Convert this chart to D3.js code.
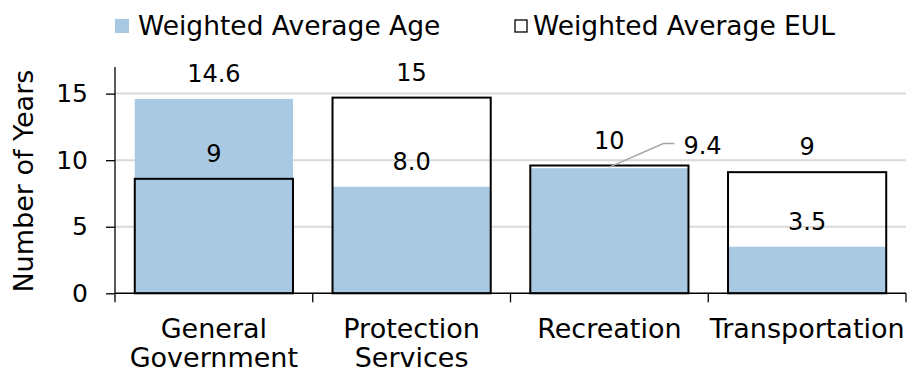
<!DOCTYPE html>
<html>
<head>
<meta charset="utf-8">
<script src="https://cdn.jsdelivr.net/npm/d3@7"></script>
<style>
  html, body { margin: 0; padding: 0; background: #fff; }
  svg { display: block; font-family: "DejaVu Sans", Verdana, sans-serif; }
</style>
</head>
<body>
<svg id="chart" width="907" height="376"></svg>
<script>
// Asset classes and their weighted averages (years)
const categories = ["General Government", "Protection Services", "Recreation", "Transportation"];
const avgAge = [14.6, 8.0, 9.4, 3.5];
const avgEUL = [8.6, 14.7, 9.6, 9.1];
const yTicks = [0, 5, 10, 15];
const seriesNames = ["Weighted Average Age", "Weighted Average EUL"];

const W = 907, H = 376;
const margin = { left: 115, right: 1, top: 67, bottom: 82.7 };
const ageColor = "#a9c8e2";

const svg = d3.select("#chart");

const x = d3.scaleBand()
  .domain(categories)
  .range([margin.left, W - margin.right])
  .paddingInner(0.2)
  .paddingOuter(0.1);

const y = d3.scaleLinear()
  .domain([0, 17])
  .range([H - margin.bottom, margin.top]);

const step = x.step();
const bandStart = d => x(d) - step * 0.1;

// horizontal gridlines
svg.append("g")
  .selectAll("line")
  .data(yTicks.filter(t => t > 0))
  .join("line")
  .attr("x1", margin.left).attr("x2", W - margin.right)
  .attr("y1", d => y(d)).attr("y2", d => y(d))
  .attr("stroke", "#d9d9d9").attr("stroke-width", 2);

// Age bars (filled)
svg.append("g")
  .selectAll("rect")
  .data(categories)
  .join("rect")
  .attr("x", d => x(d))
  .attr("width", x.bandwidth())
  .attr("y", (d, i) => y(avgAge[i]))
  .attr("height", (d, i) => y(0) - y(avgAge[i]))
  .attr("fill", ageColor);

// EUL bars (outline only)
svg.append("g")
  .selectAll("rect")
  .data(categories)
  .join("rect")
  .attr("x", d => x(d))
  .attr("width", x.bandwidth())
  .attr("y", (d, i) => y(avgEUL[i]))
  .attr("height", (d, i) => y(0) - y(avgEUL[i]))
  .attr("fill", "none")
  .attr("stroke", "#000")
  .attr("stroke-width", 2);

// y axis
const yAxis = d3.axisLeft(y).tickValues(yTicks).tickSize(9).tickPadding(18).tickFormat(d3.format("d"));
const gy = svg.append("g")
  .attr("transform", `translate(${margin.left},0)`)
  .call(yAxis);
gy.select(".domain").remove();
gy.append("line")
  .attr("x1", 0).attr("x2", 0)
  .attr("y1", y(17)).attr("y2", y(0))
  .attr("stroke", "#000").attr("stroke-width", 1.3);
gy.selectAll(".tick line").attr("stroke", "#000").attr("stroke-width", 1.3);
gy.selectAll(".tick text")
  .attr("fill", "#000")
  .style("font-size", "25px")
  .style("font-family", "DejaVu Sans, Verdana, sans-serif");

// x axis baseline and category separators
const gx = svg.append("g");
gx.append("line")
  .attr("x1", margin.left).attr("x2", W - margin.right)
  .attr("y1", y(0)).attr("y2", y(0))
  .attr("stroke", "#000").attr("stroke-width", 1.5);
const boundaries = categories.map(bandStart).concat([bandStart(categories[categories.length - 1]) + step]);
gx.selectAll("line.sep")
  .data(boundaries)
  .join("line")
  .attr("class", "sep")
  .attr("x1", d => d).attr("x2", d => d)
  .attr("y1", y(0)).attr("y2", y(0) + 9)
  .attr("stroke", "#000").attr("stroke-width", 1.3);

// category labels, wrapped onto two lines where they contain a space
gx.selectAll("text.cat")
  .data(categories)
  .join("text")
  .attr("class", "cat")
  .attr("text-anchor", "middle")
  .attr("font-size", 27)
  .attr("fill", "#000")
  .each(function (d) {
    const words = d.split(" ");
    const t = d3.select(this);
    words.forEach((w, k) => {
      t.append("tspan")
        .attr("x", x(d) + x.bandwidth() / 2)
        .attr("y", 338 + k * 29)
        .text(w);
    });
  });

// y axis title
svg.append("text")
  .attr("transform", `translate(33,${(y(0) + y(17)) / 2 + 1}) rotate(-90)`)
  .attr("text-anchor", "middle")
  .attr("font-size", 27)
  .attr("fill", "#000")
  .text("Number of Years");

// value labels
const fmtAge = d3.format(".1f");
const fmtEUL = d3.format(".0f");
const labelGap = 17;
const labels = svg.append("g").attr("font-size", 24).attr("fill", "#000").attr("text-anchor", "middle");

labels.selectAll("text.eul")
  .data(categories)
  .join("text")
  .attr("class", "eul")
  .attr("x", d => x(d) + x.bandwidth() / 2)
  .attr("y", (d, i) => y(avgEUL[i]) - labelGap)
  .text((d, i) => fmtEUL(avgEUL[i]));

// Age labels; Recreation's sits beside the bar with a leader line
const cx = d => x(d) + x.bandwidth() / 2;
categories.forEach((d, i) => {
  if (d === "Recreation") {
    const top = y(avgAge[i]) - 1;
    const lx = cx(d) + 54, ly = y(avgEUL[i]) - 22;
    svg.append("polyline")
      .attr("points", `${cx(d)},${top} ${lx},${ly} ${lx + 11},${ly}`)
      .attr("fill", "none")
      .attr("stroke", "#a6a6a6")
      .attr("stroke-width", 1.5);
    labels.append("text")
      .attr("text-anchor", "start")
      .attr("x", lx + 20)
      .attr("y", ly + 10)
      .text(fmtAge(avgAge[i]));
  } else {
    labels.append("text")
      .attr("x", cx(d))
      .attr("y", y(avgAge[i]) - labelGap)
      .text(fmtAge(avgAge[i]));
  }
});

// legend
const legend = svg.append("g").attr("font-size", 26.5).attr("fill", "#000");
legend.append("rect")
  .attr("x", 115).attr("y", 19).attr("width", 14).attr("height", 14)
  .attr("fill", ageColor);
legend.append("text").attr("x", 138).attr("y", 35).text(seriesNames[0]);
legend.append("rect")
  .attr("x", 515).attr("y", 20).attr("width", 12).attr("height", 12)
  .attr("fill", "#fff").attr("stroke", "#000").attr("stroke-width", 1.3);
legend.append("text").attr("x", 533).attr("y", 35).text(seriesNames[1]);
</script>
</body>
</html>
